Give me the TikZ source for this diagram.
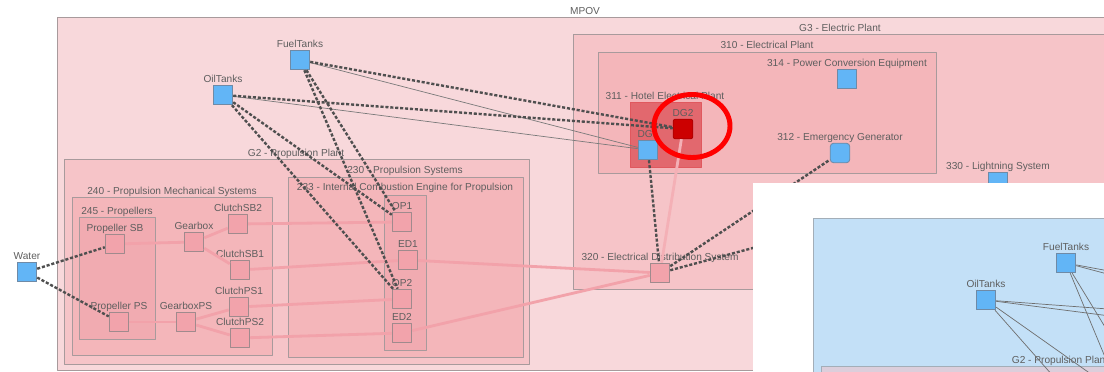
\documentclass[tikz,border=0pt]{standalone}
\usepackage{fontspec}
\setmainfont{Liberation Sans}
\usepackage{tikz}
\usetikzlibrary{graphs}

\definecolor{mpovbg}{HTML}{F8D8DB}
\definecolor{grpbg}{HTML}{F6C4C8}
\definecolor{subbg}{HTML}{F4B6BA}
\definecolor{leafbg}{HTML}{F1ABB1}
\definecolor{hotelbg}{HTML}{E2686E}
\definecolor{hotelline}{HTML}{E0585E}
\definecolor{boxline}{HTML}{A89A9C}
\definecolor{txt}{HTML}{5E5E5E}
\definecolor{partfill}{HTML}{F2A3AB}
\definecolor{partline}{HTML}{A08A8D}
\definecolor{tankfill}{HTML}{62B5F6}
\definecolor{tankline}{HTML}{6F8AA6}
\definecolor{dgred}{HTML}{CC0000}
\definecolor{flowpink}{HTML}{F2A2AA}
\definecolor{flowlight}{HTML}{F4B0B6}
\definecolor{deplink}{HTML}{4F4F4F}
\definecolor{feedgray}{HTML}{7A7A7A}
\definecolor{insetbg}{HTML}{C3E0F7}
\definecolor{insetline}{HTML}{A3AEB8}
\definecolor{insetgrp}{HTML}{DCCEDB}

\begin{document}
\begin{tikzpicture}[x=0.025cm, y=-0.025cm, line join=round,
    every node/.style={font=\fontsize{7.2}{8}\selectfont, text=txt},
    grp/.style={draw=boxline, line width=0.6pt},
    ttl/.style={inner sep=0pt, text height=5.2pt, text depth=1.2pt},
    tag/.style={ttl, inner sep=0.5pt},
    part/.style={rectangle, draw=partline, fill=partfill, line width=0.6pt, minimum size=0.49cm, inner sep=0pt},
    tank/.style={part, draw=tankline, fill=tankfill},
    flow/.style={draw=flowpink, line width=2pt},
    dep/.style={draw=deplink, line width=1.7pt, dash pattern=on 2.2pt off 1.3pt},
    feed/.style={draw=feedgray, line width=0.5pt}]
    \useasboundingbox (0,0) rectangle (1104,372);
    \clip (0,0) rectangle (1104,372);

    % containers
    \draw[grp, fill=mpovbg] (57,17) rectangle (1110,370);
    \node[ttl] (mpovt) at (585,12) {MPOV};
    \draw[grp, fill=grpbg] (573,34) rectangle (1107,289);
    \node[ttl] (g3t) at (840,29) {G3 - Electric Plant};
    \draw[grp, fill=subbg] (598,52) rectangle (936,173);
    \node[ttl] (p310t) at (767,46) {310 - Electrical Plant};
    \draw[fill=hotelbg, draw=hotelline, line width=0.6pt] (630,102) rectangle (701,167);
    \node[ttl] (p311t) at (665,97) {311 - Hotel Electrical Plant};

    \draw[grp, fill=grpbg] (64,159) rectangle (529,364);
    \node[ttl] (g2t) at (296,154) {G2 - Propulsion Plant};
    \draw[grp, fill=subbg] (72,197) rectangle (272,355);
    \node[ttl] (s240t) at (172,192) {240 - Propulsion Mechanical Systems};
    \draw[grp, fill=leafbg] (79,217) rectangle (155,339);
    \node[ttl] (s245t) at (117,212) {245 - Propellers};
    \draw[grp, fill=subbg] (288,177) rectangle (523,357);
    \node[ttl] (s230t) at (405,171) {230 - Propulsion Systems};
    \draw[grp, fill=leafbg] (384,195) rectangle (426,350);
    \node[ttl] (s233t) at (405,188) {233 - Internal Combustion Engine for Propulsion};

    % components
    \node[tank, label={[tag]above:Water}] (water) at (27,272) {};
    \node[tank, label={[tag]above:FuelTanks}] (fuel) at (300,60) {};
    \node[tank, label={[tag]above:OilTanks}] (oil) at (223,95) {};
    \node[part, label={[tag]above:Propeller SB}] (propsb) at (115,244) {};
    \node[part, label={[tag]above:Propeller PS}] (propps) at (119,322) {};
    \node[part, label={[tag]above:Gearbox}] (gearbox) at (194,242) {};
    \node[part, label={[tag]above:GearboxPS}] (gearboxps) at (186,322) {};
    \node[part, label={[tag]above:ClutchSB2}] (clsb2) at (238,224) {};
    \node[part, label={[tag]above:ClutchSB1}] (clsb1) at (240,270) {};
    \node[part, label={[tag]above:ClutchPS1}] (clps1) at (239,307) {};
    \node[part, label={[tag]above:ClutchPS2}] (clps2) at (240,338) {};
    \node[part, label={[tag]above:OP1}] (op1) at (402,222) {};
    \node[part, label={[tag]above:ED1}] (ed1) at (408,260) {};
    \node[part, label={[tag]above:OP2}] (op2) at (402,299) {};
    \node[part, label={[tag]above:ED2}] (ed2) at (402,333) {};
    \node[tank, label={[tag]above:DG1}] (dg1) at (648,150) {};
    \node[part, fill=dgred, draw=dgred!85!black, rounded corners=1.5pt, label={[tag]above:DG2}] (dg2) at (683,129) {};
    \node[tank, label={[tag]above:314 - Power Conversion Equipment}] (pce) at (847,79) {};
    \node[tank, rounded corners=2.5pt, label={[tag]above:312 - Emergency Generator}] (emg) at (840,153) {};
    \node[tank, label={[tag]above:330 - Lightning System}] (lts) at (998,182) {};
    \node[part, label={[tag]above:320 - Electrical Distribution System}] (eds) at (660,273) {};

    % shafts and power lines
    \graph {
        (propsb) --[flow] (gearbox);
        (gearbox) --[flow] (clsb2);
        (gearbox) --[flow] (clsb1);
        (clsb2) --[flow] (op1);
        (clsb1) --[flow] (ed1);
        (propps) --[flow] (gearboxps);
        (gearboxps) --[flow] (clps1);
        (gearboxps) --[flow] (clps2);
        (clps1) --[flow] (op2);
        (clps2) --[flow] (ed2);
        (ed1) --[flow] (eds);
        (ed2) --[flow] (eds);
        (dg2) --[flow, draw=flowlight] (eds);
    };

    % dependencies
    \draw[feed] (fuel) -- (dg1);
    \draw[feed] (oil) -- (dg1);
    \draw[dep] (water) -- (propsb);
    \draw[dep] (water) -- (propps);
    \draw[dep] (fuel) -- (dg2);
    \draw[dep] (oil) -- (dg2);
    \draw[dep] (fuel) -- (op1);
    \draw[dep] (fuel) -- (op2);
    \draw[dep] (oil) -- (op1);
    \draw[dep] (oil) -- (op2);
    \draw[dep] (dg1) -- (eds);
    \draw[dep] (eds) -- (emg);
    \draw[dep] (eds) -- (lts);

    % highlight
    \draw[red, line width=3.5pt] (692,126) ellipse [x radius=38, y radius=31.5];

    % second view
    \fill[white] (753,183) rectangle (1110,380);
    \draw[draw=insetline, line width=0.6pt, fill=insetbg] (813,218) rectangle (1110,380);
    \draw[draw=insetline, line width=0.6pt, fill=insetgrp] (821,366) rectangle (1110,390);
    \node[ttl] (g2bt) at (1060,361) {G2 - Propulsion Plant};
    \coordinate (dg1b) at (1412,355);
    \coordinate (dg2b) at (1447,334);
    \coordinate (op1b) at (1166,427);
    \coordinate (op2b) at (1166,504);
    \node[tank, label={[tag]above:FuelTanks}] (fuelb) at (1066,263) {};
    \node[tank, label={[tag]above:OilTanks}] (oilb) at (986,300) {};
    \foreach \t in {dg1b, dg2b, op1b, op2b} {
        \draw[feed, draw=feedgray!90!black] (fuelb) -- (\t);
        \draw[feed, draw=feedgray!90!black] (oilb) -- (\t);
    }
\end{tikzpicture}
\end{document}
